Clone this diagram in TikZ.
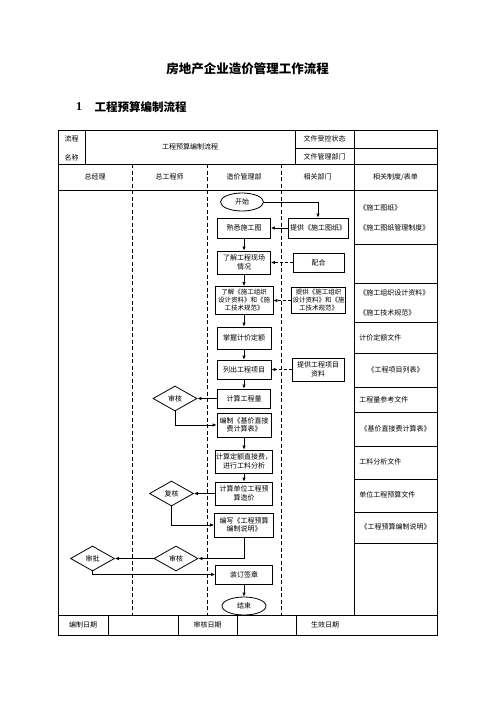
\documentclass[tikz,border=0pt]{standalone}
\usepackage{fontspec}
\setmainfont{Noto Sans CJK SC}
\newfontfamily\latinfont{Liberation Serif}
\usetikzlibrary{arrows.meta, positioning, shapes.geometric, calc}
\definecolor{cink}{HTML}{000000}
\tikzset{
  every picture/.style={x=1pt, y=-1pt, line width=0.8pt, draw=cink, font=\fontsize{7}{8.5}\selectfont},
  proc/.style={draw, align=center, inner sep=0.5pt, minimum width=#1, minimum height=20pt},
  proc/.default=54pt,
  decide/.style={draw, diamond, inner sep=0pt, minimum width=44pt, minimum height=25pt},
  term/.style={draw, ellipse, inner sep=0pt, minimum width=43pt, minimum height=18pt},
  flow/.style={-{Latex[length=4pt, width=3.5pt]}, line width=0.9pt},
  helper/.style={flow, dash pattern=on 3pt off 2pt},
  lane/.style={dash pattern=on 4pt off 2.5pt, line width=0.9pt},
  cell/.style={align=center, inner sep=0pt},
  small/.style={font=\fontsize{6.5}{8}\selectfont},
}
\begin{document}
\begin{tikzpicture}
  \useasboundingbox (0,0) rectangle (496,702);
  \fill[white] (0,0) rectangle (496,702);
  % headings
  \node[font=\fontsize{12.5}{15}\selectfont\bfseries] (title) at (247.5,69) {房地产企业造价管理工作流程};
  \node[font=\fontsize{12}{14}\selectfont\latinfont\bfseries] (secnum) at (79,107) {1};
  \node[font=\fontsize{11.5}{14}\selectfont\bfseries, anchor=west] (sectitle) at (91,107) {工程预算编制流程};
  % table
  \draw (58,130) rectangle (437,635);
  \draw (295,148) -- (437,148);
  \draw (58,164) -- (437,164);
  \draw (58,190) -- (437,190);
  \draw (58,615) -- (437,615);
  \foreach \x in {85,295,354} \draw (\x,130) -- (\x,164);
  \foreach \x in {132,207,281} \draw[lane] (\x,164) -- (\x,615);
  \draw (354,164) -- (354,615);
  \foreach \y in {244,283,322,353,387,412,446,479,512,543} \draw (354,\y) -- (437,\y);
  \foreach \x in {108,178,237,296} \draw (\x,615) -- (\x,635);
  \node[cell] (hname1) at (71.5,139) {流程};
  \node[cell] (hname2) at (71.5,157.5) {名称};
  \node[cell] (hflow) at (190,147) {工程预算编制流程};
  \node[cell] (hctrl) at (324.5,139) {文件受控状态};
  \node[cell] (hdept) at (324.5,157) {文件管理部门};
  \node[cell] (lgm) at (95,177) {总经理};
  \node[cell] (lce) at (169.5,177) {总工程师};
  \node[cell] (lcost) at (244,177) {造价管理部};
  \node[cell] (lrel) at (317.5,177) {相关部门};
  \node[cell] (lform) at (395.5,177) {相关制度/表单};
  \node[cell] (fdate1) at (83,625) {编制日期};
  \node[cell] (fdate2) at (207.5,625) {审核日期};
  \node[cell] (fdate3) at (325,625) {生效日期};
  % forms
  \node[cell, anchor=west] (r1a) at (359,208) {《施工图纸》};
  \node[cell, anchor=west] (r1b) at (359,228) {《施工图纸管理制度》};
  \node[cell, anchor=west] (r2a) at (359,293) {《施工组织设计资料》};
  \node[cell, anchor=west] (r2b) at (359,313) {《施工技术规范》};
  \node[cell, anchor=west] (r3) at (359,338) {计价定额文件};
  \node[cell] (r4) at (395.5,370) {《工程项目列表》};
  \node[cell, anchor=west] (r5) at (359,400) {工程量参考文件};
  \node[cell] (r6) at (395.5,429) {《基价直接费计算表》};
  \node[cell, anchor=west] (r7) at (359,462) {工料分析文件};
  \node[cell, anchor=west] (r8) at (359,495) {单位工程预算文件};
  \node[cell] (r9) at (395.5,527) {《工程预算编制说明》};
  % flow
  \node[term] (start) at (242,202) {开始};
  \node[proc=53pt] (read) at (244,228) {熟悉施工图};
  \node[proc=60pt] (give1) at (318,228) {提供《施工图纸》};
  \node[proc=53pt, minimum height=23pt] (site) at (244,262.5) {了解工程现场\\情况};
  \node[proc=51pt, minimum height=19pt] (coop) at (318.5,262.5) {配合};
  \node[proc=58pt, minimum height=28pt, small] (study) at (244,300.5) {了解《施工组织\\设计资料》和《施\\工技术规范》};
  \node[proc=54pt, minimum height=26pt, small] (give2) at (318.5,300.5) {提供《施工组织\\设计资料》和《施\\工技术规范》};
  \node[proc=54pt, minimum height=22pt] (quota) at (244,338) {掌握计价定额};
  \node[proc=54pt, minimum height=19pt] (items) at (244,369.5) {列出工程项目};
  \node[proc=52pt, minimum height=23pt] (give3) at (318,369.5) {提供工程项目\\资料};
  \node[proc=53pt, minimum height=19pt] (qty) at (244,398.5) {计算工程量};
  \node[decide] (chk1) at (175,398.5) {审核};
  \node[proc=54pt, minimum height=24pt] (base) at (244,425) {编制《基价直接\\费计算表》};
  \node[proc=57pt, minimum height=23pt] (direct) at (244,461.5) {计算定额直接费，\\进行工料分析};
  \node[proc=57pt, minimum height=23pt] (unit) at (244,493.5) {计算单位工程预\\算造价};
  \node[decide] (rechk) at (171.5,493.5) {复核};
  \node[proc=59pt, minimum height=24pt] (write) at (244,525) {编写《工程预算\\编制说明》};
  \node[decide] (chk2) at (176,558.5) {审核};
  \node[decide] (appr) at (92.5,558.5) {审批};
  \node[proc=57pt, minimum height=19pt] (bind) at (244,574.5) {装订签章};
  \node[term, minimum width=44pt] (stop) at (244,606) {结束};
  \draw[flow] (start.east) -| (give1.north);
  \draw[flow] (give1.west) -- (read.east);
  \draw[flow] (read.south) -- (site.north);
  \draw[helper] (coop.west) -- (site.east);
  \draw[flow] (site.south) -- (study.north);
  \draw[helper] (give2.west) -- (study.east);
  \draw[flow] (study.south) -- (quota.north);
  \draw[flow] (quota.south) -- (items.north);
  \draw[helper] (give3.west) -- (items.east);
  \draw[flow] (items.south) -- (qty.north);
  \draw[flow] (qty.west) -- (chk1.east);
  \draw[flow] (chk1.south) |- (base.west);
  \draw[flow] (base.south) -- (direct.north);
  \draw[flow] (direct.south) -- (unit.north);
  \draw[flow] (unit.west) -- (rechk.east);
  \draw[flow] (rechk.south) |- (write.west);
  \draw[flow] (write.south) |- (chk2.east);
  \draw[flow] (chk2.west) -- (appr.east);
  \draw[flow] (appr.south) |- (bind.west);
  \draw[flow] (bind.south) -- (stop.north);
\end{tikzpicture}
\end{document}
